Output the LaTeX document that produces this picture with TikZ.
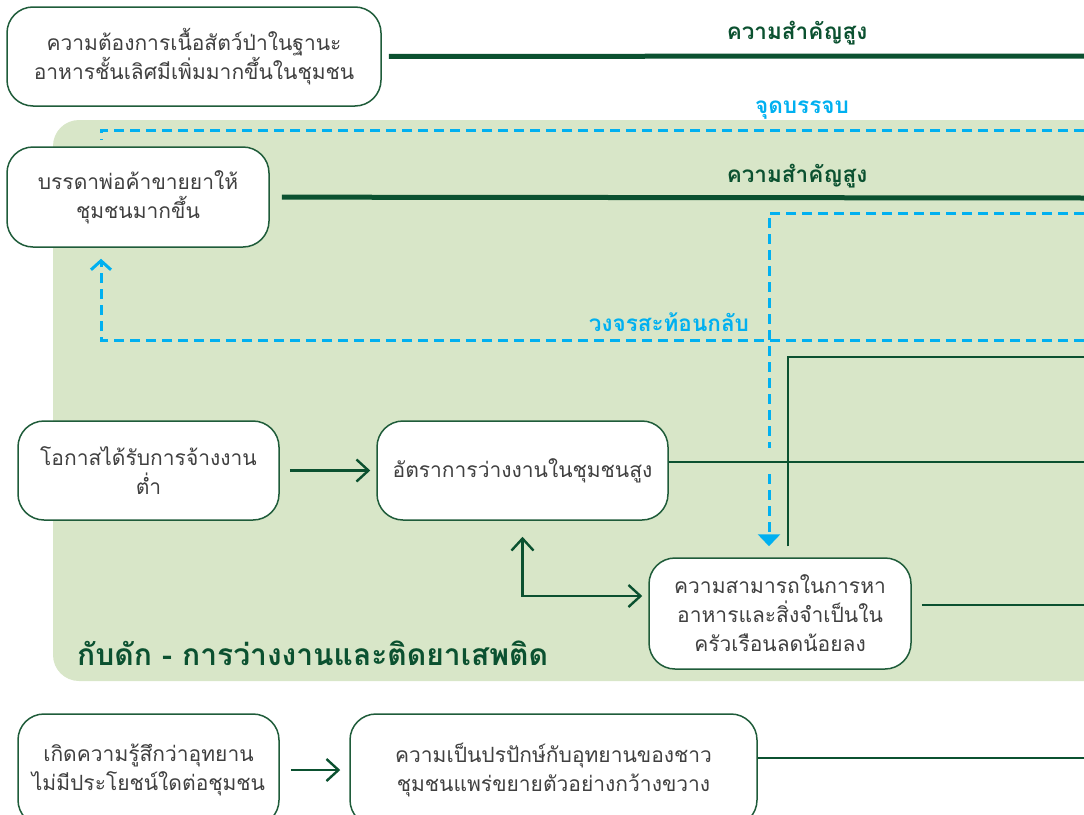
\documentclass[tikz,border=0pt]{standalone}
\usepackage{fontspec}
\newfontfamily\thaifont[Script=Thai]{Loma}
\usetikzlibrary{arrows.meta}
\definecolor{darkgreen}{HTML}{0B5130}
\definecolor{boxgreen}{HTML}{1F5C3A}
\definecolor{lightgreen}{HTML}{D8E6C8}
\definecolor{skyblue}{HTML}{00B0F0}
\definecolor{textgray}{HTML}{404040}
\begin{document}
\begin{tikzpicture}[x=1pt,y=-1pt,
box node/.style={draw=boxgreen,line width=1.5pt,fill=white,rounded corners=26pt,align=center,text=textgray,inner sep=0pt,font=\thaifont\fontsize{21}{29}\selectfont},
label node/.style={font=\thaifont\bfseries\fontsize{22.5}{24}\selectfont},
thick line/.style={darkgreen,line width=5pt},
link line/.style={darkgreen,line width=2.4pt},
dash line/.style={skyblue,line width=3pt,dash pattern=on 10pt off 6pt},
barb/.style={-{Straight Barb[length=12pt,width=22pt]}}]
\useasboundingbox (0,0) rectangle (1084,814);
\clip (0,0) rectangle (1084,814);
\def\R{1084}
\fill[lightgreen,rounded corners=26pt] (53,120) rectangle (\R+40,681);

\node[box node,minimum width=374pt,minimum height=99pt] (need) at (194,56.5) {ความต้องการเนื้อสัตว์ป่าในฐานะ\\อาหารชั้นเลิศมีเพิ่มมากขึ้นในชุมชน};
\node[box node,minimum width=262pt,minimum height=100pt] (deal) at (138,197) {บรรดาพ่อค้าขายยาให้\\ชุมชนมากขึ้น};
\node[box node,minimum width=261pt,minimum height=99pt] (low) at (148.5,470.5) {โอกาสได้รับการจ้างงาน\\ต่ำ};
\node[box node,minimum width=291pt,minimum height=99pt] (rate) at (522.5,470.5) {อัตราการว่างงานในชุมชนสูง};
\node[box node,minimum width=262pt,minimum height=111pt] (abil) at (780,613.5) {ความสามารถในการหา\\อาหารและสิ่งจำเป็นใน\\ครัวเรือนลดน้อยลง};
\node[box node,minimum width=261pt,minimum height=112pt] (feel) at (148.5,770) {เกิดความรู้สึกว่าอุทยาน\\ไม่มีประโยชน์ใดต่อชุมชน};
\node[box node,minimum width=407pt,minimum height=112pt] (feud) at (553.5,770) {ความเป็นปรปักษ์กับอุทยานของชาว\\ชุมชนแพร่ขยายตัวอย่างกว้างขวาง};

\node[label node,text=darkgreen] (high1) at (797,33) {ความสำคัญสูง};
\node[label node,text=darkgreen] (high2) at (797,176) {ความสำคัญสูง};
\node[label node,text=skyblue] (join) at (802,110) {จุดบรรจบ};
\node[label node,text=skyblue] (loop) at (669,322) {วงจรสะท้อนกลับ};
\node[text=darkgreen,font=\thaifont\bfseries\fontsize{30}{32}\selectfont,anchor=west,inner sep=0pt] (trap) at (77,653) {กับดัก - การว่างงานและติดยาเสพติด};

\coordinate (needR) at (\R,56);
\coordinate (joinR) at (\R,130);
\coordinate (dealR) at (\R,198);
\coordinate (loopR) at (\R,213);
\coordinate (backR) at (\R,340);
\coordinate (upR) at (\R,357);
\coordinate (rateR) at (\R,462);
\coordinate (abilR) at (\R,605);
\coordinate (feudR) at (\R,758);

\draw [thick line,shorten <=7pt] (need) -- (needR);
\draw [thick line,shorten <=12pt] (deal) -- (dealR);

\draw [dash line,shorten >=6pt] (joinR) -| ([xshift=-37pt]deal.north);
\draw [dash line,-{Straight Barb[length=9pt,width=20pt]},shorten >=11pt] (backR) -| ([xshift=-37pt]deal.south);
\draw [dash line,-{Triangle[length=12pt,width=22pt]},shorten >=11pt] (loopR) -| ([xshift=-11pt]abil.north);

\fill[lightgreen] (764,448) rectangle (774,474);
\draw [link line,shorten <=11pt] ([xshift=8pt]abil.north) |- (upR);
\draw [link line] (rate.east |- rateR) -- (rateR);
\draw [link line,barb,shorten <=10pt,shorten >=6pt] (low) -- (rate);
\draw [link line,{Straight Barb[length=12pt,width=22pt]}-{Straight Barb[length=12pt,width=22pt]},shorten <=16pt,shorten >=6pt] (rate.south) |- ([yshift=17.5pt]abil.west);
\draw [link line,shorten <=10pt] ([yshift=8.5pt]abil.east) -- (abilR);

\draw [link line,barb,shorten <=11pt,shorten >=9pt] (feel) -- (feud);
\draw [link line] ([yshift=12pt]feud.east) -- (feudR);
\end{tikzpicture}
\end{document}
